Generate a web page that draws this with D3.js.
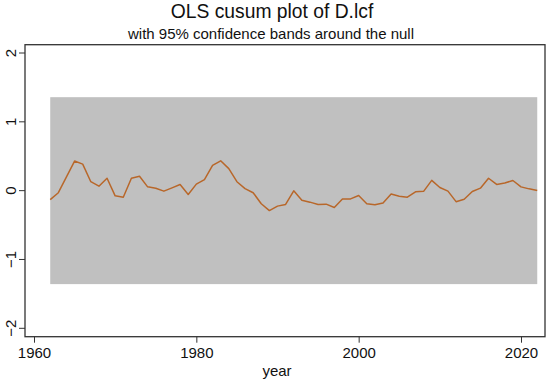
<!DOCTYPE html>
<html><head><meta charset="utf-8">
<script src="https://cdn.jsdelivr.net/npm/d3@7"></script>
<style>body{margin:0;background:#fff}</style>
</head><body>
<svg id="c" width="550" height="379"></svg>
<script>
const years = d3.range(1962, 2023);
const cusum = [-0.13,-0.03,0.2,0.43,0.385,0.13,0.065,0.18,-0.075,-0.095,
0.18,0.21,0.055,0.036,-0.007,0.04,0.09,-0.056,0.095,0.16,
0.366,0.434,0.32,0.13,0.03,-0.03,-0.19,-0.29,-0.225,-0.2,
-0.003,-0.14,-0.167,-0.2,-0.196,-0.245,-0.12,-0.12,-0.07,-0.19,
-0.206,-0.18,-0.05,-0.08,-0.095,-0.017,-0.01,0.15,0.046,-0.007,
-0.16,-0.124,-0.012,0.036,0.18,0.09,0.11,0.148,0.055,0.026,0.003];
const band = 1.358;
const xTicks = [1960,1980,2000,2020];
const yTicks = [-2,-1,0,1,2];

const svg = d3.select("#c");
const font = "'Liberation Sans', Arial, sans-serif";
const x = d3.scaleLinear().domain([1960,2020]).range([34,521]);
const y = d3.scaleLinear().domain([-2,2]).range([328.3,53]);
const L=25,R=545,T=44.7,B=336.7;

svg.append("rect").attr("x",L).attr("y",T).attr("width",R-L).attr("height",B-T)
  .attr("fill","#fff").attr("stroke","#333").attr("stroke-width",1.3);

svg.append("rect").attr("x",x(years[0])).attr("y",y(band))
  .attr("width",x(years[years.length-1])-x(years[0])).attr("height",y(-band)-y(band))
  .attr("fill","#c0c0c0");

svg.append("path").datum(cusum)
  .attr("fill","none").attr("stroke","#b8672a").attr("stroke-width",1.5)
  .attr("stroke-linejoin","round")
  .attr("d", d3.line().x((d,i)=>x(years[i])).y(d=>y(d)));

const xa = svg.append("g").attr("transform",`translate(0,${B})`)
  .call(d3.axisBottom(x).tickValues(xTicks).tickFormat(d3.format("d")).tickSize(6).tickPadding(5));
xa.select(".domain").remove();
xa.selectAll("text").attr("font-family",font).attr("font-size",15).attr("fill","#111");
xa.selectAll("line").attr("stroke","#333");

const ya = svg.append("g").attr("transform",`translate(${L},0)`)
  .call(d3.axisLeft(y).tickValues(yTicks).tickSize(6).tickFormat(d3.format("d")));
ya.select(".domain").remove();
ya.selectAll("line").attr("stroke","#333");
ya.selectAll("text").attr("font-family",font).attr("font-size",15).attr("fill","#111")
  .attr("text-anchor","middle").attr("x",0).attr("dy",0)
  .attr("transform",d=>`translate(-13,${y(d)}) rotate(-90)`).attr("y",0)
  .attr("dominant-baseline","middle");
ya.selectAll(".tick").attr("transform",null);
ya.selectAll(".tick line").attr("transform",d=>`translate(0,${y(d)})`);

svg.append("text").attr("x",272).attr("y",18).attr("text-anchor","middle")
  .attr("font-family",font).attr("font-size",19.3).attr("fill","#111").text("OLS cusum plot of D.lcf");
svg.append("text").attr("x",271).attr("y",39).attr("text-anchor","middle")
  .attr("font-family",font).attr("font-size",15).attr("fill","#111").text("with 95% confidence bands around the null");
svg.append("text").attr("x",277).attr("y",376).attr("text-anchor","middle")
  .attr("font-family",font).attr("font-size",15).attr("fill","#111").text("year");
</script>
</body></html>
